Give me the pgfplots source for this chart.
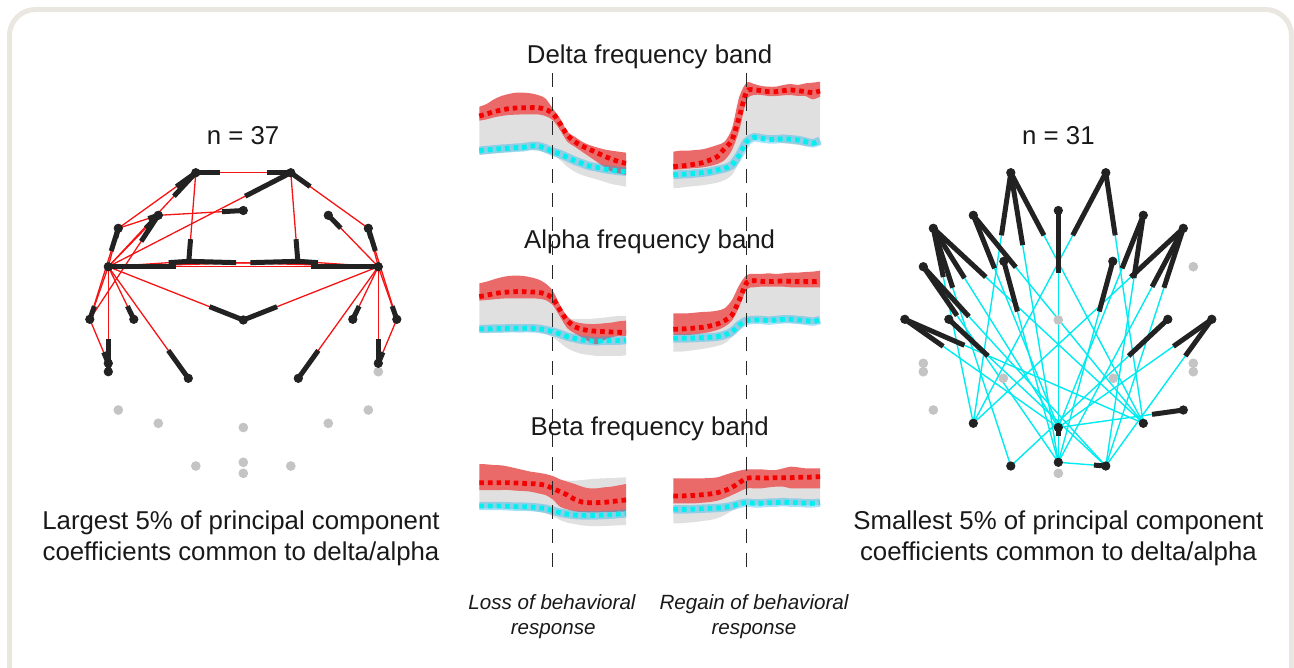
\documentclass[border=0pt]{standalone}
\usepackage{pgfplots}
\pgfplotsset{compat=1.18}
\usepgfplotslibrary{fillbetween}
\usepackage{pgfplotstable}
\usepackage{fontspec}
\setmainfont{Liberation Sans}

\definecolor{frameC}{RGB}{234,231,225}
\definecolor{bandRed}{RGB}{234,106,106}
\definecolor{bandGray}{RGB}{224,224,224}
\definecolor{meanRed}{RGB}{245,0,0}
\definecolor{meanCyan}{RGB}{0,240,240}
\definecolor{edgeRed}{RGB}{245,20,20}
\definecolor{edgeCyan}{RGB}{0,235,240}
\definecolor{barBlack}{RGB}{34,34,34}
\definecolor{offGray}{RGB}{196,196,196}
\definecolor{txt}{RGB}{25,25,25}

% ---------- electrode layout (x, y; y grows downwards) ----------
\newcommand\el[3]{\expandafter\def\csname ex@#1\endcsname{#2}\expandafter\def\csname ey@#1\endcsname{#3}}
\newcommand\EX[1]{\csname ex@#1\endcsname}
\newcommand\EY[1]{\csname ey@#1\endcsname}
\el{T7}{-135}{266.7}   \el{T8}{135}{266.7}
\el{Fpa}{-47.5}{172.7} \el{Fpb}{47.5}{172.7}
\el{Fz0}{0}{210.5}
\el{AFl}{-85}{215.3}   \el{AFr}{85}{215.3}
\el{Fl}{-125}{228.3}   \el{Fr}{125}{228.3}
\el{Cl}{-54.5}{261.3}  \el{Cr}{54.5}{261.3}
\el{Cz}{0}{320}
\el{TPl}{-153.5}{319.3} \el{CPl}{-109.5}{319.3}
\el{TPr}{153.5}{319.3}  \el{CPr}{109.5}{319.3}
\el{Pla}{-135}{363.3}  \el{Plb}{-135}{371.7}
\el{Pra}{135}{363.3}   \el{Prb}{135}{371.7}
\el{Pl}{-55}{378.3}    \el{Pr}{55}{378.3}
\el{POl}{-125}{410}    \el{POr}{125}{410}
\el{PO3}{-85}{423.3}   \el{PO4}{85}{423.3}
\el{POz}{0}{427.5}
\el{O1}{-47.5}{466}    \el{Oz}{0}{462.3}   \el{O2}{47.5}{466}
\el{Iz}{0}{473.3}

% connection a -> b : thin line a--b, heavy stub on the last quarter at b
\newcommand\thinedge[2]{\edef\plotcmd{\noexpand\addplot[\edgestyle] coordinates {(\EX{#1},\EY{#1}) (\EX{#2},\EY{#2})};}\plotcmd}
\newcommand\baredge[2]{%
  \pgfmathsetmacro\stubx{(\EX{#2})+0.25*((\EX{#1})-(\EX{#2}))}%
  \pgfmathsetmacro\stuby{(\EY{#2})+0.25*((\EY{#1})-(\EY{#2}))}%
  \edef\plotcmd{\noexpand\addplot[bar edge] coordinates {(\EX{#2},\EY{#2}) (\stubx,\stuby)};}\plotcmd}

\def\leftedges{\E{Fpb}{Fpa}\E{Fpa}{Fpb}\E{T7}{Fpb}\E{Fr}{Fpb}\E{T8}{AFr}\E{TPl}{Fl}\E{TPr}{Fr}%
\E{Fpa}{Cl}\E{T7}{Cl}\E{T8}{Cl}\E{Fpb}{Cr}\E{T7}{Cr}\E{T8}{Cr}\E{T8}{T7}\E{T7}{T8}%
\E{T7}{Cz}\E{T8}{Cz}\E{T7}{TPl}\E{T7}{CPl}\E{T7}{Pla}\E{TPl}{Pla}\E{T7}{Pl}\E{T8}{Pr}%
\E{T8}{CPr}\E{T8}{Pra}\E{TPr}{Pra}\E{Fl}{Fpa}\E{T7}{Fpa}\E{TPl}{AFl}\E{Fl}{AFl}%
\E{AFl}{Fz0}\E{T8}{TPr}\E{T7}{Fl}\E{T8}{Fr}\E{T7}{AFl}\E{T7}{Plb}}

\def\rightedges{\E{PO3}{Fpa}\E{Oz}{Fpa}\E{PO4}{Fpa}\E{PO3}{Fpb}\E{PO4}{Fpb}\E{Oz}{Fz0}%
\E{POz}{Fz0}\E{POz}{AFl}\E{PO4}{AFl}\E{O1}{Fl}\E{PO3}{Fl}\E{POz}{Fl}\E{PO4}{Fl}%
\E{POz}{AFr}\E{O2}{AFr}\E{PO3}{Fr}\E{Oz}{Fr}\E{O2}{Fr}\E{Oz}{T7}\E{O2}{T7}\E{Oz}{Cr}%
\E{Oz}{Cl}\E{POz}{TPl}\E{PO4}{TPl}\E{O2}{CPl}\E{O1}{CPr}\E{POz}{TPr}\E{O2}{TPr}%
\E{POz}{POr}\E{Oz}{O2}\E{Oz}{POz}}

\pgfplotsset{
  net/.style={scale only axis, width=170pt, height=170pt, xmin=-170, xmax=170,
    ymin=150, ymax=490, y dir=reverse, hide axis, clip=false, anchor=north west},
  red edge/.style={draw=edgeRed, line width=0.65pt},
  cyan edge/.style={draw=edgeCyan, line width=0.7pt},
  bar edge/.style={draw=barBlack, line width=2.5pt},
  on node/.style={only marks, mark=*, mark size=2.1pt, color=barBlack},
  off node/.style={only marks, mark=*, mark size=2.2pt, color=offGray},
  mini/.style={scale only axis, width=73.35pt, xmin=-60, xmax=60, ymin=0,
    hide axis, clip=false, anchor=north west},
  red mean/.style={draw=meanRed, line width=2.4pt, dash pattern=on 2.3pt off 2pt, smooth},
  cyan mean/.style={draw=meanCyan, line width=2.4pt, dash pattern=on 2.3pt off 2pt, smooth},
  cyan band/.style={draw=cyan, line width=4.2pt, opacity=0.35, smooth},
}

% ---------- group averages around the transitions ----------
% t: time from transition; red band (rlo,rhi), red mean rm; grey range (glo,ghi); cyan mean cm
\pgfplotstableread{
t rlo rhi rm glo ghi cm
-60 21.8 26.0 23.2 11.5 23.2 12.8
-54 22.2 26.8 23.8 11.8 23.8 13.0
-48 22.8 28.2 24.5 12.0 24.5 13.2
-42 23.2 29.2 25.0 12.2 25.0 13.4
-36 23.5 29.8 25.4 12.4 25.4 13.5
-30 23.6 30.2 25.6 12.6 25.6 13.7
-24 23.7 30.2 25.7 12.8 25.7 13.8
-18 23.7 30.0 25.7 13.0 25.7 14.2
-12 23.7 29.5 25.7 12.8 25.7 14.2
-6 23.2 28.5 25.2 12.2 25.2 13.5
0 22.0 25.5 24.0 11.5 24.0 12.5
6 19.0 22.5 21.0 10.0 21.0 11.8
12 15.5 18.5 17.5 8.0 17.5 10.8
18 14.0 17.0 15.5 6.5 15.5 9.8
24 12.5 15.5 14.2 5.5 14.2 9.0
30 11.0 14.5 13.2 4.8 13.2 8.2
36 9.5 13.8 12.2 4.2 12.2 7.8
42 8.0 13.2 11.2 3.5 11.2 7.3
48 6.5 12.8 10.3 2.8 10.3 7.0
54 6.0 12.5 9.5 2.4 9.5 6.7
60 5.5 12.2 9.0 2.0 9.0 6.5
}\deltaLoss
\pgfplotstableread{
t rlo rhi rm glo ghi cm
-60 7.0 12.5 8.0 1.5 8.0 5.5
-54 7.2 12.8 8.2 1.7 8.2 5.7
-48 7.4 12.8 8.4 2.0 8.4 5.8
-42 7.6 13.0 8.8 2.2 8.8 6.0
-36 7.8 13.2 9.2 2.4 9.2 6.2
-30 8.2 13.8 10.0 2.8 10.0 6.5
-24 8.8 14.5 11.0 3.2 11.0 7.0
-18 10.0 15.5 13.5 4.0 13.5 7.5
-12 13.0 19.5 16.0 5.5 16.0 8.5
-6 19.0 29.0 23.0 9.5 23.0 11.5
0 28.0 33.2 30.5 14.5 30.5 15.5
6 29.5 32.8 31.0 16.0 31.0 16.8
12 29.5 32.2 30.8 16.2 30.8 16.5
18 29.2 32.0 30.5 16.0 30.5 16.2
24 29.2 32.0 30.5 15.5 30.5 16.2
30 29.4 32.5 30.8 15.0 30.8 16.4
36 29.5 32.8 31.0 14.8 31.0 16.2
42 29.2 32.5 30.8 14.5 30.8 16.0
48 29.2 33.0 30.5 14.2 30.5 15.5
54 28.2 33.2 30.2 14.2 30.2 15.0
60 29.0 33.5 30.7 14.5 30.7 15.8
}\deltaRegain
\pgfplotstableread{
t rlo rhi rm glo ghi cm
-60 18.8 24.0 20.0 9.2 20.0 10.3
-54 19.0 24.5 20.4 9.2 20.4 10.3
-48 19.2 25.2 20.9 9.3 20.9 10.4
-42 19.4 25.8 21.2 9.4 21.2 10.4
-36 19.5 26.2 21.4 9.4 21.4 10.5
-30 19.5 26.3 21.5 9.5 21.5 10.5
-24 19.5 26.2 21.5 9.5 21.5 10.5
-18 19.5 25.8 21.4 9.5 21.4 10.5
-12 19.4 25.2 21.3 9.3 21.3 10.4
-6 19.0 24.0 20.8 8.8 20.8 10.0
0 17.5 21.8 19.5 7.8 20.0 9.5
6 14.0 17.5 16.0 6.2 16.0 8.8
12 10.5 14.0 12.8 4.5 13.5 8.0
18 9.0 12.5 11.0 3.5 13.3 7.5
24 7.8 12.0 10.2 2.8 13.3 7.0
30 6.5 11.8 9.8 2.5 13.3 6.8
36 5.7 11.8 9.6 2.2 13.5 6.6
42 7.0 12.0 9.5 2.2 13.7 6.8
48 7.8 12.2 9.4 2.2 14.0 6.8
54 8.2 12.6 9.3 2.2 14.2 6.8
60 8.2 12.8 9.2 2.4 14.2 7.0
}\alphaLoss
\pgfplotstableread{
t rlo rhi rm glo ghi cm
-60 8.5 15.0 10.2 3.5 10.2 7.5
-54 8.5 15.0 10.3 3.5 10.3 7.5
-48 8.5 15.0 10.4 3.7 10.4 7.5
-42 8.7 15.2 10.6 4.0 10.6 7.6
-36 9.0 15.4 10.8 4.3 10.8 7.7
-30 9.4 15.5 11.2 4.7 11.2 7.8
-24 10.0 15.8 11.8 5.2 11.8 8.0
-18 11.0 16.5 12.8 6.0 12.8 8.5
-12 12.8 19.0 14.5 7.8 14.5 9.5
-6 17.0 23.5 19.0 10.0 19.0 11.5
0 22.2 26.5 24.2 12.0 24.2 12.8
6 22.8 26.8 24.8 12.2 24.8 13.0
12 23.0 26.8 24.6 12.3 24.6 13.0
18 23.0 27.0 24.5 12.3 24.5 12.8
24 23.0 26.8 24.6 12.2 24.6 13.0
30 23.0 27.0 24.7 12.2 24.7 13.2
36 22.8 27.2 24.6 12.2 24.6 13.2
42 22.8 27.2 24.5 12.0 24.5 13.0
48 22.8 27.4 24.5 11.8 24.5 12.8
54 22.8 27.5 24.5 11.8 24.5 12.5
60 22.8 27.8 24.6 12.0 24.6 13.0
}\alphaRegain
\pgfplotstableread{
t rlo rhi rm glo ghi cm
-60 12.0 19.8 14.2 6.5 14.2 7.2
-54 12.0 19.7 14.2 6.5 14.2 7.2
-48 12.0 19.5 14.2 6.5 14.2 7.2
-42 12.0 19.4 14.2 6.4 14.2 7.2
-36 12.0 19.0 14.2 6.3 14.2 7.1
-30 11.8 18.5 14.1 6.2 14.1 7.0
-24 11.7 18.0 14.0 6.0 14.0 7.0
-18 11.5 17.5 13.9 5.8 13.9 6.9
-12 11.0 17.2 13.8 5.5 13.8 6.7
-6 10.5 16.8 13.4 5.0 13.4 6.4
0 9.2 16.2 12.5 4.2 16.0 5.8
6 7.0 15.2 11.5 3.0 15.2 5.2
12 6.2 14.5 10.5 2.2 14.8 4.8
18 5.6 13.8 9.2 1.8 14.8 4.5
24 5.4 13.0 8.4 1.4 15.0 4.4
30 5.3 12.5 8.2 1.2 15.2 4.4
36 5.3 12.5 8.2 1.2 15.4 4.4
42 5.4 12.8 8.3 1.2 15.5 4.5
48 5.4 13.0 8.5 1.3 15.6 4.6
54 5.5 13.4 8.8 1.4 15.7 4.8
60 5.5 13.8 9.0 1.5 15.8 5.0
}\betaLoss
\pgfplotstableread{
t rlo rhi rm glo ghi cm
-60 8.0 15.5 10.2 2.0 10.2 6.2
-54 8.0 15.5 10.2 2.0 10.2 6.2
-48 8.0 15.5 10.3 2.2 10.3 6.2
-42 8.0 15.5 10.4 2.4 10.4 6.3
-36 8.2 15.5 10.6 2.7 10.6 6.4
-30 8.4 15.6 10.8 3.0 10.8 6.5
-24 8.8 15.8 11.2 3.5 11.2 6.6
-18 9.5 16.5 11.8 4.5 11.8 6.8
-12 10.5 17.2 12.8 5.8 12.8 7.2
-6 11.5 17.8 14.2 7.0 14.2 7.8
0 12.5 18.2 15.5 7.5 15.5 8.2
6 12.5 18.2 15.7 7.5 15.7 8.0
12 12.5 18.2 15.6 7.5 15.6 8.0
18 12.8 18.0 15.6 7.5 15.6 8.2
24 13.0 18.0 15.7 7.5 15.7 8.2
30 13.0 18.5 15.7 7.5 15.7 8.4
36 12.5 19.0 15.7 7.5 15.7 8.2
42 12.5 18.8 15.8 7.5 15.8 8.2
48 12.5 18.5 15.8 7.5 15.8 8.0
54 12.5 18.5 15.9 7.5 15.9 8.0
60 12.5 18.5 16.0 7.5 16.0 8.2
}\betaRegain

\newcommand\bandplots[1]{%
  \addplot[name path=gh, draw=none, smooth] table[x=t, y=ghi] {#1};
  \addplot[name path=gl, draw=none, smooth] table[x=t, y=glo] {#1};
  \addplot[fill=bandGray, draw=none] fill between[of=gh and gl];
  \addplot[name path=rh, draw=none, smooth] table[x=t, y=rhi] {#1};
  \addplot[name path=rl, draw=none, smooth] table[x=t, y=rlo] {#1};
  \addplot[fill=bandRed, draw=none] fill between[of=rh and rl];
  \addplot[cyan band] table[x=t, y=cm] {#1};
  \addplot[cyan mean] table[x=t, y=cm] {#1};
  \addplot[red mean] table[x=t, y=rm] {#1};
}

\begin{document}
\begin{tikzpicture}
\draw[frameC, line width=2.5pt, rounded corners=13pt]
  (4.75pt,-334pt) -- (4.75pt,-4.75pt) -- (645.75pt,-4.75pt) -- (645.75pt,-334pt);

% ---------- left network: largest coefficients ----------
\begin{axis}[net, at={(36.65pt,-75pt)}]
  \def\edgestyle{red edge}
  \let\E\thinedge \leftedges
  \let\E\baredge  \leftedges
  \addplot[off node] coordinates {(135,371.7) (-125,410) (125,410) (-85,423.3) (85,423.3)
    (0,427.5) (-47.5,466) (0,462.3) (47.5,466) (0,473.3)};
  \addplot[on node] coordinates {(-135,266.7) (135,266.7) (-47.5,172.7) (47.5,172.7)
    (0,210.5) (-85,215.3) (85,215.3) (-125,228.3) (125,228.3) (0,320) (-153.5,319.3)
    (-109.5,319.3) (153.5,319.3) (109.5,319.3) (-135,363.3) (-135,371.7) (135,363.3)
    (-55,378.3) (55,378.3)};
\end{axis}

% ---------- right network: smallest coefficients ----------
\begin{axis}[net, at={(444.15pt,-75pt)}]
  \def\edgestyle{cyan edge}
  \let\E\thinedge \rightedges
  \let\E\baredge  \rightedges
  \addplot[off node] coordinates {(135,266.7) (0,320) (-135,363.3) (-135,371.7) (135,363.3)
    (135,371.7) (-55,378.3) (55,378.3) (-125,410) (0,473.3)};
  \addplot[on node] coordinates {(-47.5,172.7) (47.5,172.7) (0,210.5) (-85,215.3)
    (85,215.3) (-125,228.3) (125,228.3) (-135,266.7) (-54.5,261.3) (54.5,261.3)
    (-153.5,319.3) (-109.5,319.3) (153.5,319.3) (109.5,319.3) (125,410) (-85,423.3)
    (85,423.3) (0,427.5) (-47.5,466) (0,462.3) (47.5,466)};
\end{axis}

% ---------- band panels ----------
\begin{axis}[mini, ymax=34, height=56.67pt, at={(239.65pt,-40pt)}]
  \bandplots{\deltaLoss}
\end{axis}
\begin{axis}[mini, ymax=34, height=56.67pt, at={(336.65pt,-40pt)}]
  \bandplots{\deltaRegain}
\end{axis}
\begin{axis}[mini, ymax=30, height=50pt, at={(239.65pt,-131.65pt)}]
  \bandplots{\alphaLoss}
\end{axis}
\begin{axis}[mini, ymax=30, height=50pt, at={(336.65pt,-131.65pt)}]
  \bandplots{\alphaRegain}
\end{axis}
\begin{axis}[mini, ymax=21, height=35pt, at={(239.65pt,-230pt)}]
  \bandplots{\betaLoss}
\end{axis}
\begin{axis}[mini, ymax=21, height=35pt, at={(336.65pt,-230pt)}]
  \bandplots{\betaRegain}
\end{axis}

% transition markers
\draw[black!85, line width=0.6pt, dash pattern=on 7pt off 5pt] (276.35pt,-36.5pt) -- (276.35pt,-287.5pt);
\draw[black!85, line width=0.6pt, dash pattern=on 7pt off 5pt] (373.35pt,-36.5pt) -- (373.35pt,-287.5pt);

% ---------- text ----------
\begin{scope}[every node/.style={anchor=base, text=txt, inner sep=0pt, font=\fontsize{12.9}{15}\selectfont}]
  \node at (121.5pt,-72.5pt) {n = 37};
  \node at (529.2pt,-72.5pt) {n = 31};
  \node at (324.8pt,-32pt) {Delta frequency band};
  \node at (324.8pt,-124.5pt) {Alpha frequency band};
  \node at (324.8pt,-217.5pt) {Beta frequency band};
  \node at (120.5pt,-264.5pt) {Largest 5\% of principal component};
  \node at (120.5pt,-280pt) {coefficients common to delta/alpha};
  \node at (529.2pt,-264.5pt) {Smallest 5\% of principal component};
  \node at (529.2pt,-280pt) {coefficients common to delta/alpha};
\end{scope}
\begin{scope}[every node/.style={anchor=base, text=txt, inner sep=0pt, font=\fontsize{10.3}{12}\selectfont\itshape}]
  \node at (276pt,-304.5pt) {Loss of behavioral};
  \node at (276.6pt,-317pt) {response};
  \node at (377pt,-304.5pt) {Regain of behavioral};
  \node at (377pt,-317pt) {response};
\end{scope}

% page extent
\pgfresetboundingbox
\useasboundingbox (0,0) rectangle (647pt,-334pt);
\end{tikzpicture}
\end{document}
